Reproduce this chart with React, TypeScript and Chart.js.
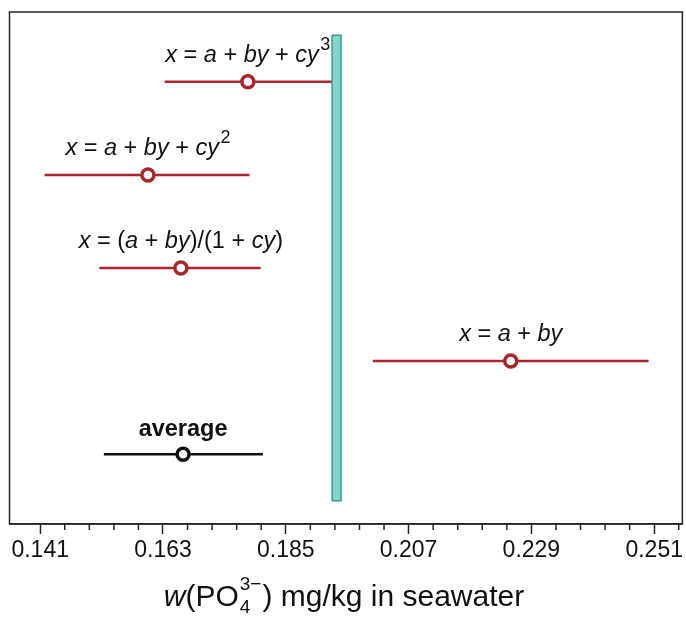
import React, { useEffect, useRef } from "react";
import { Chart, registerables } from "chart.js";

Chart.register(...registerables);

// ---- data ----
const rowNames = ["x = a + by + cy^3", "x = a + by + cy^2", "x = (a + by)/(1 + cy)", "x = a + by", "average"];
const rowLevels = [5, 4, 3, 2, 1];
const rowCenters = [0.1782, 0.1603, 0.1662, 0.2253, 0.1666];
const rowLows = [0.1633, 0.1418, 0.1516, 0.2006, 0.1524];
const rowHighs = [0.1932, 0.1785, 0.1805, 0.25, 0.1809];
const rowIsAverage = [false, false, false, false, true];
const refBand = [0.1933, 0.1949];
const refSpan = [0.5, 5.5];
const majorTicks = [0.141, 0.163, 0.185, 0.207, 0.229, 0.251];
const minorPerMajor = 4;
const xRange = [0.1355, 0.25605];
const yRange = [0.25, 5.75];

// ---- styles ----
const RED = "#a8262f";
const BLACK = "#111111";
const AXIS = "#262626";
const TEAL_FILL = "#86d5cc";
const TEAL_EDGE = "#2f9e90";
const FONT = '"Liberation Sans", Arial, Helvetica, sans-serif';

type Seg = { text: string; italic: boolean; sup: boolean };

function parseRich(s: string): Seg[] {
  const segs: Seg[] = [];
  for (let i = 0; i < s.length; i++) {
    let ch = s[i];
    let sup = false;
    if (ch === "^") {
      i++;
      ch = s[i];
      sup = true;
    }
    const italic = /[a-z]/.test(ch);
    const last = segs[segs.length - 1];
    if (last && last.italic === italic && last.sup === sup) last.text += ch;
    else segs.push({ text: ch, italic, sup });
  }
  return segs;
}

function drawRich(ctx: CanvasRenderingContext2D, text: string, cx: number, baseline: number, size: number, color: string, bold: boolean) {
  const segs = bold ? [{ text, italic: false, sup: false }] : parseRich(text);
  const supSize = Math.round(size * 0.75);
  const fontOf = (s: Seg) => `${s.italic ? "italic " : ""}${bold ? "bold " : ""}${s.sup ? supSize : size}px ${FONT}`;
  const widths = segs.map((s) => {
    ctx.font = fontOf(s);
    return ctx.measureText(s.text).width + (s.sup ? 1.5 : 0);
  });
  const total = widths.reduce((a, b) => a + b, 0);
  let x = cx - total / 2;
  ctx.fillStyle = color;
  ctx.textBaseline = "alphabetic";
  ctx.textAlign = "left";
  segs.forEach((s, i) => {
    ctx.font = fontOf(s);
    ctx.fillText(s.text, x + (s.sup ? 1.5 : 0), s.sup ? baseline - size * 0.5 : baseline);
    x += widths[i];
  });
}

const decorPlugin = {
  id: "decor",
  afterDraw(chart: any) {
    const { ctx, chartArea } = chart;
    const xs = chart.scales.x;
    const ys = chart.scales.y;
    ctx.save();
    // frame
    ctx.strokeStyle = AXIS;
    ctx.lineWidth = 1.5;
    ctx.strokeRect(chartArea.left, chartArea.top, chartArea.right - chartArea.left, chartArea.bottom - chartArea.top);
    // minor ticks
    const step = (majorTicks[1] - majorTicks[0]) / (minorPerMajor + 1);
    const minors: number[] = [];
    majorTicks.forEach((m, i) => {
      for (let k = 1; k <= minorPerMajor; k++) {
        const v = m + k * step;
        if (i < majorTicks.length - 1 || k === 1) minors.push(v);
      }
    });
    ctx.lineWidth = 1.5;
    minors.forEach((v) => {
      const px = xs.getPixelForValue(v);
      ctx.beginPath();
      ctx.moveTo(px, chartArea.bottom);
      ctx.lineTo(px, chartArea.bottom + 6);
      ctx.stroke();
    });
    // row labels
    rowNames.forEach((name, i) => {
      const cx = xs.getPixelForValue(rowCenters[i]);
      const cy = ys.getPixelForValue(rowLevels[i]);
      drawRich(ctx, name, cx, cy - (rowIsAverage[i] ? 18 : 20), 23.5, BLACK, rowIsAverage[i]);
    });
    // axis title: w(PO4^3-) mg/kg in seawater
    const size = 30;
    const small = 19;
    const parts: { t: string; f: string }[] = [
      { t: "w", f: `italic ${size}px ${FONT}` },
      { t: "(PO", f: `${size}px ${FONT}` },
    ];
    const tail = ") mg/kg in seawater";
    let w = 0;
    parts.forEach((p) => {
      ctx.font = p.f;
      w += ctx.measureText(p.t).width;
    });
    ctx.font = `${small}px ${FONT}`;
    const supW = ctx.measureText("3\u2212").width;
    const subW = ctx.measureText("4").width;
    const stackW = Math.max(supW, subW) + 2;
    ctx.font = `${size}px ${FONT}`;
    const tailW = ctx.measureText(tail).width;
    w += stackW + tailW;
    const baseY = 606;
    let x = 344 - w / 2;
    ctx.fillStyle = BLACK;
    ctx.textAlign = "left";
    ctx.textBaseline = "alphabetic";
    parts.forEach((p) => {
      ctx.font = p.f;
      ctx.fillText(p.t, x, baseY);
      x += ctx.measureText(p.t).width;
    });
    ctx.font = `${small}px ${FONT}`;
    ctx.fillText("3\u2212", x + 1, baseY - 16);
    ctx.fillText("4", x + 1, baseY + 7);
    x += stackW;
    ctx.font = `${size}px ${FONT}`;
    ctx.fillText(tail, x, baseY);
    ctx.restore();
  },
};

export default function App() {
  const ref = useRef<HTMLCanvasElement | null>(null);
  useEffect(() => {
    if (!ref.current) return;
    const lineSets = rowNames.map((_, i) => ({
      type: "scatter" as const,
      data: [
        { x: rowLows[i], y: rowLevels[i] },
        { x: rowHighs[i], y: rowLevels[i] },
      ],
      showLine: true,
      borderColor: rowIsAverage[i] ? BLACK : RED,
      borderWidth: 2.5,
      pointRadius: 0,
      tension: 0,
      fill: false,
    }));
    const pointSet = {
      type: "scatter" as const,
      data: rowCenters.map((c, i) => ({ x: c, y: rowLevels[i] })),
      showLine: false,
      pointRadius: 6,
      pointBorderWidth: 3.5,
      pointBackgroundColor: "#ffffff",
      pointBorderColor: rowIsAverage.map((a) => (a ? BLACK : RED)),
    };
    const bandSet = {
      type: "scatter" as const,
      data: [
        { x: refBand[0], y: refSpan[0] },
        { x: refBand[1], y: refSpan[0] },
        { x: refBand[1], y: refSpan[1] },
        { x: refBand[0], y: refSpan[1] },
        { x: refBand[0], y: refSpan[0] },
      ],
      showLine: true,
      fill: "shape",
      backgroundColor: TEAL_FILL,
      borderColor: TEAL_EDGE,
      borderWidth: 1.5,
      pointRadius: 0,
      tension: 0,
    };
    const chart = new Chart(ref.current, {
      type: "scatter",
      data: { datasets: [pointSet, ...lineSets, bandSet] as any },
      options: {
        responsive: false,
        animation: false,
        events: [],
        layout: { autoPadding: false, padding: { left: 9.5, top: 12, right: 1, bottom: 0 } },
        plugins: { legend: { display: false }, tooltip: { enabled: false }, title: { display: false } },
        scales: {
          x: {
            type: "linear",
            min: xRange[0],
            max: xRange[1],
            afterBuildTicks: (scale: any) => {
              scale.ticks = majorTicks.map((v) => ({ value: v }));
            },
            afterFit: (scale: any) => {
              scale.height = 94;
            },
            grid: { drawOnChartArea: false, drawTicks: true, tickLength: 10, tickColor: AXIS, tickWidth: 1.5 },
            border: { display: true, color: AXIS, width: 1.5 },
            ticks: {
              autoSkip: false,
              maxRotation: 0,
              minRotation: 0,
              padding: 3,
              color: BLACK,
              font: { family: FONT, size: 23 },
              callback: (v: any) => Number(v).toFixed(3),
            },
          },
          y: { type: "linear", min: yRange[0], max: yRange[1], display: false },
        },
      },
      plugins: [decorPlugin],
    });
    return () => chart.destroy();
  }, []);
  return (
    <div style={{ position: "fixed", left: 0, top: 0, width: 686, height: 618, background: "#fff" }}>
      <canvas ref={ref} width={686} height={618} style={{ display: "block" }} />
    </div>
  );
}
